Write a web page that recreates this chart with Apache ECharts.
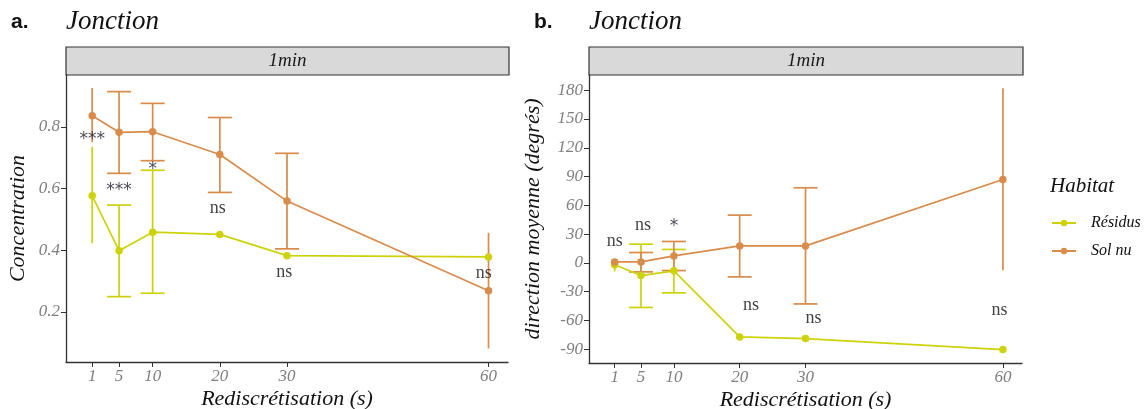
<!DOCTYPE html>
<html>
<head>
<meta charset="utf-8">
<script src="https://cdn.jsdelivr.net/npm/echarts@6/dist/echarts.min.js"></script>
<style>html,body{margin:0;padding:0;background:#fff}#c{width:1146px;height:409px}</style>
</head>
<body>
<div id="c"></div>
<script>
// ---------- data ----------
const xVals = [1, 5, 10, 20, 30, 60];
const xTicks = [1, 5, 10, 20, 30, 60];
const hasCap = [false, true, true, true, true, false];

// Panel a : Concentration
const aResidus    = [0.576, 0.398, 0.458, 0.451, 0.382, 0.378];
const aResidusLo  = [0.422, 0.249, 0.260, null, null, null];
const aResidusHi  = [0.735, 0.546, 0.659, null, null, null];
const aSolnu      = [0.836, 0.782, 0.784, 0.710, 0.559, 0.268];
const aSolnuLo    = [0.750, 0.649, 0.690, 0.587, 0.404, 0.081];
const aSolnuHi    = [0.926, 0.914, 0.876, 0.830, 0.714, 0.456];
const aYTicks     = [0.2, 0.4, 0.6, 0.8];
const aAnnX = [1, 5, 10, 19.7, 29.6, 59.3];
const aAnnY = [0.758, 0.594, 0.662, 0.536, 0.328, 0.325];
const aAnnT = ['***', '***', '*', 'ns', 'ns', 'ns'];

// Panel b : direction moyenne (degrés)
const bResidus    = [-2, -13.2, -8.3, -77.2, -78.9, -90.4];
const bResidusLo  = [-9, -46.5, -31.3, null, null, null];
const bResidusHi  = [4, 19.5, 14, null, null, null];
const bSolnu      = [1, 1, 7.3, 17.7, 17.7, 87];
const bSolnuLo    = [-1, -9.4, -8, -14.6, -42.8, -7.6];
const bSolnuHi    = [3, 10.8, 22.3, 49.8, 78.3, 182];
const bYTicks     = [-90, -60, -30, 0, 30, 60, 90, 120, 150, 180];
const bAnnX = [1, 5.3, 10, 21.7, 31.2, 59.5];
const bAnnY = [22.7, 39.4, 37.5, -44.7, -57.7, -49.4];
const bAnnT = ['ns', 'ns', '*', 'ns', 'ns', 'ns'];

const seriesNames = ['Résidus', 'Sol nu'];
const colResidus = '#CDD20A';
const colSolnu = '#D98B4B';

// ---------- helpers ----------
const SERIF = '"Liberation Serif", "Times New Roman", serif';
const SANS = '"DejaVu Sans", sans-serif';
function pairs(xs, ys) { return xs.map((x, i) => [x, ys[i]]); }
function errData(xs, lo, hi) {
  const out = [];
  xs.forEach((x, i) => { if (lo[i] != null && hi[i] != null) out.push([x, lo[i], hi[i], hasCap[i] ? 1 : 0]); });
  return out;
}
function errSeries(idx, data, color) {
  return {
    type: 'custom', xAxisIndex: idx, yAxisIndex: idx, z: 2, silent: true,
    data: data,
    renderItem: function (params, api) {
      const x = api.value(0);
      const p1 = api.coord([x, api.value(1)]);
      const p2 = api.coord([x, api.value(2)]);
      const st = { stroke: color, lineWidth: 1.7 };
      const ch = [{ type: 'line', shape: { x1: p1[0], y1: p1[1], x2: p2[0], y2: p2[1] }, style: st }];
      if (api.value(3)) {
        const w = 12;
        ch.push({ type: 'line', shape: { x1: p1[0] - w, y1: p1[1], x2: p1[0] + w, y2: p1[1] }, style: st });
        ch.push({ type: 'line', shape: { x1: p2[0] - w, y1: p2[1], x2: p2[0] + w, y2: p2[1] }, style: st });
      }
      return { type: 'group', children: ch };
    }
  };
}
function lineSeries(idx, name, ys, color) {
  return {
    type: 'line', name: name, xAxisIndex: idx, yAxisIndex: idx, z: 3,
    data: pairs(xVals, ys), symbol: 'circle', symbolSize: 7.5, showSymbol: true,
    lineStyle: { color: color, width: 1.7 }, itemStyle: { color: color }
  };
}
function annSeries(idx, xs, ys, ts) {
  return {
    type: 'scatter', xAxisIndex: idx, yAxisIndex: idx, z: 5, silent: true,
    symbolSize: 0,
    data: xs.map((x, i) => ({
      value: [x, ys[i]], name: ts[i],
      label: ts[i].indexOf('*') >= 0 ? { fontFamily: SANS, fontSize: 17, color: '#1a1a2a' } : {}
    })),
    label: {
      show: true, position: 'inside', formatter: p => p.name,
      fontFamily: SERIF, fontSize: 18, color: '#111'
    }
  };
}
const tickLabel = { fontFamily: SERIF, fontStyle: 'italic', fontSize: 17, color: '#7F7F7F' };
const axisNameStyle = { fontFamily: SERIF, fontStyle: 'italic', fontSize: 22, color: '#111' };
function xAxis(idx) {
  return {
    type: 'value', gridIndex: idx, min: -2.9, max: 62.9,
    name: 'Rediscrétisation (s)', nameLocation: 'middle', nameGap: 26, nameMoveOverlap: false,
    nameTextStyle: axisNameStyle,
    axisLine: { show: true, onZero: false, lineStyle: { color: '#333', width: 1.3 } },
    axisTick: { show: true, length: 5, customValues: xTicks, lineStyle: { color: '#333' } },
    axisLabel: Object.assign({ customValues: xTicks, margin: 6 }, tickLabel),
    splitLine: { show: false }
  };
}
function yAxis(idx, min, max, ticks, name, gap, fmt) {
  return {
    type: 'value', gridIndex: idx, min: min, max: max,
    name: name, nameLocation: 'middle', nameRotate: 90, nameGap: gap, nameMoveOverlap: false,
    nameTextStyle: axisNameStyle,
    axisLine: { show: true, onZero: false, lineStyle: { color: '#333', width: 1.3 } },
    axisTick: { show: true, length: 5, customValues: ticks, lineStyle: { color: '#333' } },
    axisLabel: Object.assign({ customValues: ticks, margin: 6, formatter: fmt }, tickLabel),
    splitLine: { show: false }
  };
}
function strip(x, w) {
  return [
    { type: 'rect', shape: { x: x, y: 47, width: w, height: 28 },
      style: { fill: '#D9D9D9', stroke: '#333', lineWidth: 1.2 } },
    { type: 'text', x: x + w / 2, y: 61,
      style: { text: '1min', fontFamily: SERIF, fontStyle: 'italic', fontSize: 19, fill: '#1A1A1A', align: 'center', verticalAlign: 'middle' } }
  ];
}
function heading(xLetter, letter, xTitle) {
  return [
    { type: 'text', x: xLetter, y: 22,
      style: { text: letter, fontFamily: '"Liberation Sans", Arial, sans-serif', fontWeight: 'bold', fontSize: 21, fill: '#111', verticalAlign: 'middle' } },
    { type: 'text', x: xTitle, y: 22,
      style: { text: 'Jonction', fontFamily: SERIF, fontStyle: 'italic', fontSize: 27, fill: '#111', verticalAlign: 'middle' } }
  ];
}

const chart = echarts.init(document.getElementById('c'), null, { renderer: 'canvas' });
chart.setOption({
  animation: false,
  backgroundColor: '#fff',
  grid: [
    { left: 66, top: 75, width: 442, height: 287, outerBoundsMode: 'none', containLabel: false },
    { left: 589, top: 75, width: 433, height: 288, outerBoundsMode: 'none', containLabel: false }
  ],
  xAxis: [xAxis(0), xAxis(1)],
  yAxis: [
    yAxis(0, 0.037, 0.968, aYTicks, 'Concentration', 37, v => v.toFixed(1)),
    yAxis(1, -104.4, 195.9, bYTicks, 'direction moyenne (degrés)', 45, v => String(v))
  ],
  legend: {
    data: seriesNames, orient: 'vertical', left: 1046, top: 210,
    itemWidth: 24, itemHeight: 8, itemGap: 12,
    textStyle: { fontFamily: SERIF, fontStyle: 'italic', fontSize: 16, color: '#111', padding: [0, 0, 0, 10] }
  },
  graphic: [].concat(
    strip(66, 443), strip(589, 434),
    heading(11, 'a.', 66), heading(534, 'b.', 589),
    [{ type: 'text', x: 1050, y: 186,
       style: { text: 'Habitat', fontFamily: SERIF, fontStyle: 'italic', fontSize: 21, fill: '#111', verticalAlign: 'middle' } }]
  ),
  series: [
    errSeries(0, errData(xVals, aResidusLo, aResidusHi), colResidus),
    errSeries(0, errData(xVals, aSolnuLo, aSolnuHi), colSolnu),
    lineSeries(0, seriesNames[0], aResidus, colResidus),
    lineSeries(0, seriesNames[1], aSolnu, colSolnu),
    annSeries(0, aAnnX, aAnnY, aAnnT),
    errSeries(1, errData(xVals, bResidusLo, bResidusHi), colResidus),
    errSeries(1, errData(xVals, bSolnuLo, bSolnuHi), colSolnu),
    lineSeries(1, seriesNames[0], bResidus, colResidus),
    lineSeries(1, seriesNames[1], bSolnu, colSolnu),
    annSeries(1, bAnnX, bAnnY, bAnnT)
  ]
});
</script>
</body>
</html>
